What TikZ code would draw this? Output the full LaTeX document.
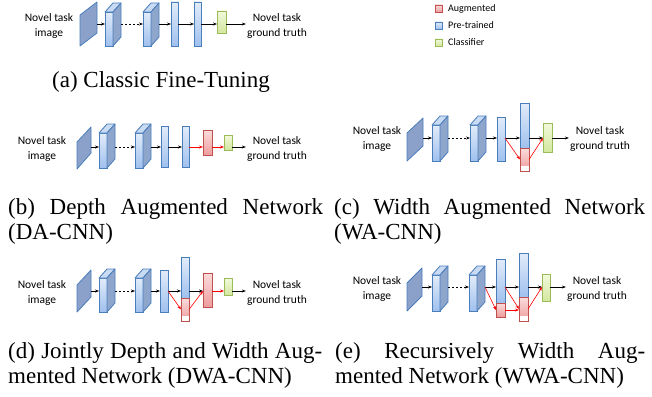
\documentclass[tikz,border=0pt]{standalone}
\usepackage{fontspec}
\setmainfont{Liberation Serif}
\newfontfamily\timesfont{Liberation Serif}
\newfontfamily\calibri{Carlito}
\usepackage{tikz}
\usetikzlibrary{positioning}
\usetikzlibrary{arrows.meta}
\usepackage{xcolor}
\definecolor{bdblue}{HTML}{4A7EBB}
\definecolor{ltblue}{HTML}{E2ECFA}
\definecolor{mdblue}{HTML}{9FC0EE}
\definecolor{topblue}{HTML}{C9DAF3}
\definecolor{sideblue}{HTML}{8EA5CC}
\definecolor{plateblue}{HTML}{8CA1CA}
\definecolor{bdred}{HTML}{C0504D}
\definecolor{ltred}{HTML}{FBDCDC}
\definecolor{mdred}{HTML}{EE9C9C}
\definecolor{bdgreen}{HTML}{9BBB59}
\definecolor{ltgreen}{HTML}{F2F9DC}
\definecolor{mdgreen}{HTML}{D2E79E}

\tikzset{
  layer/.style={draw=bdblue, line width=.8pt, top color=ltblue, bottom color=mdblue,
    inner sep=0pt, outer sep=0pt, anchor=north west, minimum width=8pt},
  cubetop/.style={draw=bdblue, line width=.8pt, fill=topblue, line join=round},
  cubeside/.style={draw=bdblue, line width=.8pt, fill=sideblue, line join=round},
  plate/.style={draw=bdblue, line width=.8pt, fill=plateblue, line join=round},
  aug/.style={draw=bdred, line width=.8pt, top color=ltred, bottom color=mdred,
    inner sep=0pt, outer sep=0pt, anchor=north west},
  augw/.style={aug, path picture={\fill[white] (path picture bounding box.south west)
    rectangle ([yshift=5pt]path picture bounding box.south east);}},
  cls/.style={draw=bdgreen, line width=.8pt, top color=ltgreen, bottom color=mdgreen,
    inner sep=0pt, outer sep=0pt, anchor=north west},
  conn/.style={->, line width=.6pt},
  redconn/.style={->, line width=.6pt, red},
  dotconn/.style={->, line width=.6pt, dash pattern=on 1.5pt off 2.5pt},
  lbl/.style={font=\calibri\fontsize{11.5}{15}\selectfont, align=center, inner sep=1pt},
  leg/.style={font=\calibri\fontsize{10}{12}\selectfont, inner sep=0pt},
  captxt/.style={font=\timesfont\fontsize{23}{25}\selectfont, inner sep=0pt}
}

% 3D layer: name, x, top, bottom
\newcommand{\cubelayer}[4]{%
  \node[layer, minimum height={(#4-#3)*1pt}] (#1) at (#2,#3) {};
  \draw[cubetop] (#1.north west) -- ++(8,-9) -- ++(8,0) -- (#1.north east) -- cycle;
  \draw[cubeside] (#1.north east) -- ++(8,-9) -- ++(0,{#4-#3}) -- (#1.south east) -- cycle;
  \coordinate (#1b) at ([xshift=8pt]#1.south east);}

\begin{document}
\begin{tikzpicture}[x=1pt, y=-1pt, >={Stealth[length=4pt,width=3pt]}]
\useasboundingbox (0,0) rectangle (652,396);

% legend
\node[aug, minimum size=7pt] (lg1) at (435,5) {};
\node[layer, minimum size=7pt, line width=.6pt] (lg2) at (435,22) {};
\node[cls, minimum size=7pt] (lg3) at (435,39) {};
\node[leg, right=6pt of lg1] {Augmented};
\node[leg, right=6pt of lg2] {Pre-trained};
\node[leg, right=6pt of lg3] {Classifier};

% (a)
\coordinate (axa) at (0,24);
\node[lbl] (ina) at (49,26) {Novel task\\image};
\draw[plate] (80,15) -- (97,2) coordinate (pa) -- (97,33) -- (80,46) -- cycle;
\cubelayer{a1}{105}{12}{46}
\cubelayer{a2}{143}{12}{46}
\node[layer, minimum width=7pt, minimum height=44pt] (a3) at (171,2) {};
\node[layer, minimum width=7pt, minimum height=44pt] (a4) at (194,2) {};
\node[cls, minimum width=9pt, minimum height=22pt] (a5) at (217,11) {};
\node[lbl] (outa) at (277,26) {Novel task\\ground truth};
\draw[conn] (pa |- axa) -- (a1.west |- axa);
\draw[dotconn] (a1b |- axa) -- (a2.west |- axa);
\draw[conn] (a2b |- axa) -- (a3.west |- axa);
\draw[conn] (a3.east |- axa) -- (a4.west |- axa);
\draw[conn] (a4.east |- axa) -- (a5.west |- axa);
\draw[conn] (a5.east |- axa) -- (outa.west |- axa);
\node[captxt, anchor=base west] (capa) at (52,87) {(a) Classic Fine-Tuning};

% (b)
\coordinate (axb) at (0,147);
\node[lbl] (inb) at (42,149) {Novel task\\image};
\draw[plate] (77,142) -- (91,127) coordinate (pb) -- (91,153) -- (77,169) -- cycle;
\cubelayer{b1}{99}{133}{168}
\cubelayer{b2}{135}{133}{168}
\node[layer, minimum width=7pt, minimum height=41pt] (b3) at (161,126) {};
\node[layer, minimum width=7pt, minimum height=41pt] (b4) at (182,126) {};
\node[aug, minimum width=9pt, minimum height=25pt] (b5) at (203,130) {};
\node[cls, minimum width=8pt, minimum height=15pt] (b6) at (224,135) {};
\node[lbl] (outb) at (277,149) {Novel task\\ground truth};
\draw[conn] (pb |- axb) -- (b1.west |- axb);
\draw[dotconn] (b1b |- axb) -- (b2.west |- axb);
\draw[conn] (b2b |- axb) -- (b3.west |- axb);
\draw[conn] (b3.east |- axb) -- (b4.west |- axb);
\draw[redconn] (b4.east |- axb) -- (b5.west |- axb);
\draw[redconn] (b5.east |- axb) -- (b6.west |- axb);
\draw[conn] (b6.east |- axb) -- (outb.west |- axb);
\node[captxt, text width=315pt, align=justify, anchor=base west] (capb) at (8,214)
  {(b) Depth Augmented Network\linebreak (DA-CNN)};

% (c)
\coordinate (axc) at (0,138);
\node[lbl] (inc) at (377,139) {Novel task\\image};
\draw[plate] (407,133) -- (423,118) coordinate (pc) -- (423,146) -- (407,161) -- cycle;
\cubelayer{c1}{432}{125}{161}
\cubelayer{c2}{470}{125}{161}
\node[layer, minimum height=44pt] (c3) at (497,117) {};
\node[layer, minimum width=9pt, minimum height=45pt] (c4) at (520,103) {};
\node[augw, minimum width=9pt, minimum height=23pt] (c5) at (520,148) {};
\node[cls, minimum width=9pt, minimum height=29pt] (c6) at (543,123) {};
\node[lbl] (outc) at (600,139) {Novel task\\ground truth};
\draw[conn] (pc |- axc) -- (c1.west |- axc);
\draw[dotconn] (c1b |- axc) -- (c2.west |- axc);
\draw[conn] (c2b |- axc) -- (c3.west |- axc);
\draw[conn] (c3.east |- axc) -- (c4.west |- axc);
\draw[conn] (c4.east |- axc) -- (c6.west |- axc);
\draw[redconn] (c3.east |- axc) -- (c5.west);
\draw[redconn] (c5.east) -- (c6.west |- axc);
\draw[conn] (c6.east |- axc) -- (outc.west |- axc);
\node[captxt, text width=311pt, align=justify, anchor=base west] (capc) at (334,214)
  {(c) Width Augmented Network\linebreak (WA-CNN)};

% (d)
\coordinate (axd) at (0,291);
\node[lbl] (ind) at (42,293) {Novel task\\image};
\draw[plate] (77,285) -- (91,270) coordinate (pd) -- (91,297) -- (77,312) -- cycle;
\cubelayer{d1}{99}{278}{312}
\cubelayer{d2}{135}{278}{312}
\node[layer, minimum height=42pt] (d3) at (160,270) {};
\node[layer, minimum height=41pt] (d4) at (181,257) {};
\node[augw, minimum width=8pt, minimum height=23pt] (d5) at (181,298) {};
\node[aug, minimum width=9pt, minimum height=34pt] (d6) at (203,273) {};
\node[cls, minimum width=8pt, minimum height=17pt] (d7) at (224,278) {};
\node[lbl] (outd) at (277,293) {Novel task\\ground truth};
\draw[conn] (pd |- axd) -- (d1.west |- axd);
\draw[dotconn] (d1b |- axd) -- (d2.west |- axd);
\draw[conn] (d2b |- axd) -- (d3.west |- axd);
\draw[conn] (d3.east |- axd) -- (d4.west |- axd);
\draw[conn] (d4.east |- axd) -- (d6.west |- axd);
\draw[redconn] (d3.east |- axd) -- (d5.west);
\draw[redconn] (d5.east) -- (d6.west |- axd);
\draw[redconn] (d6.east |- axd) -- (d7.west |- axd);
\draw[conn] (d7.east |- axd) -- (outd.west |- axd);
\node[captxt, text width=314pt, align=justify, anchor=base west] (capd) at (8,358)
  {(d) Jointly Depth and Width Aug-\linebreak mented Network (DWA-CNN)};

% (e)
\coordinate (axe) at (0,287);
\node[lbl] (ine) at (377,289) {Novel task\\image};
\draw[plate] (407,283) -- (422,268) coordinate (pe) -- (422,296) -- (407,311) -- cycle;
\cubelayer{e1}{432}{275}{311}
\cubelayer{e2}{469}{275}{311}
\node[layer, minimum width=9pt, minimum height=44pt] (e3) at (496,259) {};
\node[aug, minimum width=9pt, minimum height=14pt] (e4) at (496,303) {};
\node[layer, minimum width=9pt, minimum height=44pt] (e5) at (519,253) {};
\node[augw, minimum width=9pt, minimum height=24pt] (e6) at (519,297) {};
\node[cls, minimum width=8pt, minimum height=27pt] (e7) at (542,274) {};
\node[lbl] (oute) at (597,289) {Novel task\\ground truth};
\draw[conn] (pe |- axe) -- (e1.west |- axe);
\draw[dotconn] (e1b |- axe) -- (e2.west |- axe);
\draw[conn] (e2b |- axe) -- (e3.west |- axe);
\draw[conn] (e3.east |- axe) -- (e5.west |- axe);
\draw[conn] (e5.east |- axe) -- (e7.west |- axe);
\draw[redconn] (e2b |- axe) -- (e4.west);
\draw[redconn] (e3.east |- axe) -- (e6.west);
\draw[redconn] (e4.east) -- (e4.east -| e6.west);
\draw[redconn] (e6.east) -- (e7.west |- axe);
\draw[conn] (e7.east |- axe) -- (oute.west |- axe);
\node[captxt, text width=310pt, align=justify, anchor=base west] (cape) at (335,358)
  {(e) Recursively Width Aug-\linebreak mented Network (WWA-CNN)};
\end{tikzpicture}
\end{document}
